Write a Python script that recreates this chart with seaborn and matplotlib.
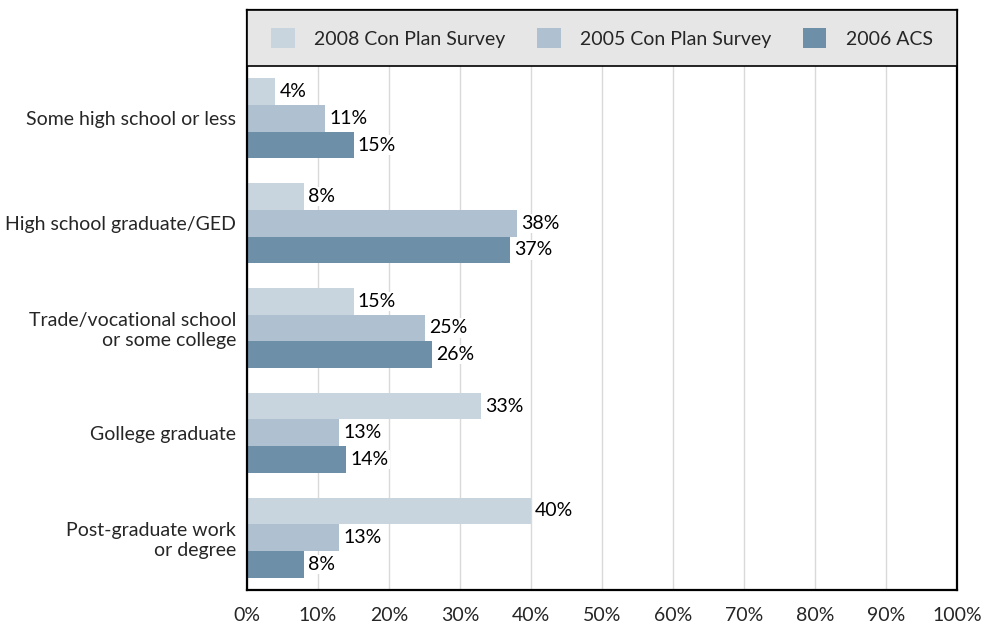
import matplotlib
matplotlib.use("Agg")
import matplotlib.pyplot as plt
from matplotlib.patches import Patch, Rectangle
import numpy as np
import pandas as pd
import seaborn as sns

categories = [
    "Some high school or less",
    "High school graduate/GED",
    "Trade/vocational school\nor some college",
    "Gollege graduate",
    "Post-graduate work\nor degree",
]
series_names = ["2008 Con Plan Survey", "2005 Con Plan Survey", "2006 ACS"]
survey_2008 = [4, 8, 15, 33, 40]
survey_2005 = [11, 38, 25, 13, 13]
acs_2006 = [15, 37, 26, 14, 8]
colors = ["#c9d5de", "#afc0d0", "#6e8fa8"]
x_ticks = list(range(0, 101, 10))

df = pd.DataFrame({
    "category": categories * 3,
    "series": np.repeat(series_names, len(categories)),
    "value": survey_2008 + survey_2005 + acs_2006,
})

sns.set_style("white")
plt.rcParams["font.family"] = ["Lato", "DejaVu Sans"]

fig = plt.figure(figsize=(9.85, 6.28), dpi=100)
W, H = 985, 628
ax = fig.add_axes([247 / W, 1 - 590 / H, 710 / W, 580 / H])

sns.barplot(data=df, y="category", x="value", hue="series", order=categories,
            hue_order=series_names, palette=colors, orient="h", width=0.765,
            saturation=1, ax=ax, legend=False, zorder=2, linewidth=0,
            edgecolor="none")

# value labels with white backing
for cont in ax.containers:
    ax.bar_label(cont, labels=[f"{v:.0f}%" for v in cont.datavalues], padding=3,
                 fontsize=14, color="black", zorder=5,
                 bbox=dict(facecolor="white", edgecolor="none", pad=0.8))

top_extra = 0.534
ax.set_xlim(0, 100)
ax.set_ylim(len(categories) - 0.5, -0.5 - top_extra)

ax.set_xticks(x_ticks)
ax.set_xticklabels([f"{t}%" for t in x_ticks], fontsize=14)
ax.xaxis.grid(True, color="#d9d9d9", linewidth=1, zorder=0)
ax.set_axisbelow(True)

ax.set_yticks(range(len(categories)))
ax.set_yticklabels(categories, fontsize=14)
ax.set_yticks(np.arange(-0.5, len(categories), 1.0), minor=True)
ax.tick_params(axis="y", which="major", length=0, pad=8)
ax.tick_params(axis="y", which="minor", length=8, width=1, color="black", direction="out")
ax.tick_params(axis="x", which="major", length=7, width=1, color="#555555",
               direction="out", pad=5)
ax.set_xlabel("")
ax.set_ylabel("")

for side, sp in ax.spines.items():
    sp.set_visible(True)
    sp.set_color("black")
    sp.set_linewidth(1.6)

# legend panel across the top of the plot area
ax.add_patch(Rectangle((0, -0.5 - top_extra), 100, top_extra, facecolor="#e6e6e6",
                       edgecolor="black", linewidth=1.2, zorder=6, clip_on=False))
handles = [Patch(facecolor=c, edgecolor="none") for c in colors]
leg = ax.legend(handles, series_names, ncol=3, loc="center",
                bbox_to_anchor=(0.5, 1 - (top_extra / 2) / (len(categories) + top_extra)),
                frameon=False, fontsize=14, handlelength=1.23, handleheight=1.23,
                handletextpad=1.0, columnspacing=1.6)
leg.set_zorder(7)

fig.savefig("out.png", dpi=100)
